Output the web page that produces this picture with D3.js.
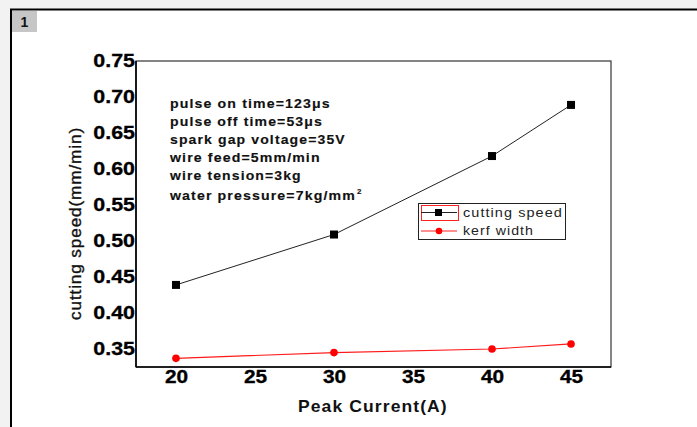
<!DOCTYPE html>
<html><head><meta charset="utf-8">
<script src="https://cdn.jsdelivr.net/npm/d3@7"></script>
<style>
html,body{margin:0;padding:0;background:#f2f2f2;}
svg{display:block;}
</style></head>
<body>
<svg id="chart" width="697" height="427"></svg>
<script>
const peakCurrent = [20, 30, 40, 45];
const cuttingSpeed = [0.439, 0.509, 0.618, 0.689];
const kerfWidth = [0.337, 0.345, 0.350, 0.357];
const xTicks = [20, 25, 30, 35, 40, 45];
const yTicks = [0.35, 0.40, 0.45, 0.50, 0.55, 0.60, 0.65, 0.70, 0.75];
const seriesNames = ["cutting speed", "kerf width"];
const notes = ["pulse on time=123μs", "pulse off time=53μs", "spark gap voltage=35V",
  "wire feed=5mm/min", "wire tension=3kg", "water pressure=7kg/mm"];
const xTitle = "Peak Current(A)";
const yTitle = "cutting speed(mm/min)";
const panelLabel = "1";

const svg = d3.select("#chart");
const font = "'Liberation Sans', Arial, sans-serif";

// stretch a text element horizontally about its anchor x so that it spans width w
function fit(sel, w) {
  sel.each(function () {
    const n = this;
    const cur = n.getBBox().width;
    if (!cur) return;
    const s = w / cur;
    const ax = +(n.getAttribute("x") || 0);
    n.setAttribute("transform", `translate(${ax},0) scale(${s},1) translate(${-ax},0)`);
  });
}

// outer frame
svg.append("rect").attr("x", 11).attr("y", 9).attr("width", 700).attr("height", 430)
  .attr("fill", "#fff");
svg.append("line").attr("x1", 10).attr("x2", 697).attr("y1", 9.5).attr("y2", 9.5)
  .attr("stroke", "#000").attr("stroke-width", 2);
svg.append("line").attr("x1", 11).attr("x2", 11).attr("y1", 9).attr("y2", 427)
  .attr("stroke", "#000").attr("stroke-width", 2);
svg.append("rect").attr("x", 12).attr("y", 11).attr("width", 25).attr("height", 21)
  .attr("fill", "#c6c6c6");
svg.append("text").attr("x", 24.5).attr("y", 26.5).attr("text-anchor", "middle")
  .attr("font-family", font).attr("font-weight", "bold").attr("font-size", 14)
  .attr("fill", "#111").text(panelLabel);

const L = 136, R = 611, T = 61, B = 367;
const x = d3.scaleLinear().domain([17.47, 47.53]).range([L, R]);
const y = d3.scaleLinear().domain([0.325, 0.75]).range([B, T]);

// plot frame
svg.append("rect").attr("x", L).attr("y", T).attr("width", R - L).attr("height", B - T)
  .attr("fill", "none").attr("stroke", "#333").attr("stroke-width", 1.2);
svg.append("line").attr("x1", L).attr("x2", L).attr("y1", T).attr("y2", B)
  .attr("stroke", "#000").attr("stroke-width", 1.6);
svg.append("line").attr("x1", L).attr("x2", R).attr("y1", B).attr("y2", B)
  .attr("stroke", "#000").attr("stroke-width", 1.6);

// axes
const gx = svg.append("g").attr("transform", `translate(0,${B})`)
  .call(d3.axisBottom(x).tickValues(xTicks).tickSize(0).tickPadding(4).tickFormat(d3.format("d")));
gx.select(".domain").remove();
gx.selectAll("text").attr("font-family", font).attr("font-weight", "bold")
  .attr("font-size", 17.5).attr("fill", "#000").attr("x", 0)
  .attr("stroke", "#000").attr("stroke-width", 0.3);
fit(gx.selectAll("text"), 23.5);

const gy = svg.append("g").attr("transform", `translate(${L},0)`)
  .call(d3.axisLeft(y).tickValues(yTicks).tickSize(0).tickFormat(d3.format(".2f")));
gy.select(".domain").remove();
gy.selectAll("text").attr("font-family", font).attr("font-weight", "bold")
  .attr("font-size", 17.5).attr("fill", "#000").attr("x", -1)
  .attr("stroke", "#000").attr("stroke-width", 0.3);
fit(gy.selectAll("text"), 42);

// titles
const xt = svg.append("text").attr("x", 298).attr("y", 412)
  .attr("font-family", font).attr("font-weight", "bold").attr("font-size", 16)
  .style("letter-spacing", "1px")
  .attr("fill", "#111").text(xTitle);
fit(xt, 150);
const yg = svg.append("g").attr("transform", "translate(81,320) rotate(-90)");
const yt = yg.append("text").attr("x", 0).attr("y", 0)
  .attr("font-family", font).attr("font-size", 16)
  .style("letter-spacing", "0.8px")
  .attr("stroke", "#111").attr("stroke-width", 0.35)
  .attr("fill", "#111").text(yTitle);
fit(yt, 193);

// lines
const line = d3.line().x(d => x(d[0])).y(d => y(d[1]));
const csData = peakCurrent.map((c, i) => [c, cuttingSpeed[i]]);
const kwData = peakCurrent.map((c, i) => [c, kerfWidth[i]]);
svg.append("path").datum(csData).attr("d", line).attr("fill", "none")
  .attr("stroke", "#222").attr("stroke-width", 1);
svg.append("path").datum(kwData).attr("d", line).attr("fill", "none")
  .attr("stroke", "#ff1a1a").attr("stroke-width", 1.2);
svg.selectAll(".sq").data(csData).enter().append("rect")
  .attr("x", d => x(d[0]) - 4).attr("y", d => y(d[1]) - 4)
  .attr("width", 8).attr("height", 8).attr("fill", "#000");
svg.selectAll(".ci").data(kwData).enter().append("circle")
  .attr("cx", d => x(d[0])).attr("cy", d => y(d[1])).attr("r", 3.8).attr("fill", "#ff0000");

// notes
const nt = svg.append("g");
const noteY = [108.5, 126.5, 144.5, 162.5, 180.5, 200.5];
const noteW = [161, 153, 176, 152, 133, 194];
notes.forEach((n, i) => {
  const t = nt.append("text").attr("x", 170).attr("y", noteY[i])
    .attr("font-family", font).attr("font-weight", "bold").attr("font-size", 12.5)
    .style("letter-spacing", "1px")
    .attr("stroke", "#111").attr("stroke-width", 0.15)
    .attr("fill", "#111").text(n);
  if (i === notes.length - 1) {
    t.append("tspan").attr("dx", 1).attr("dy", -6).attr("font-size", 7).text("2");
  }
  fit(t, noteW[i]);
});

// legend
const lg = svg.append("g");
lg.append("rect").attr("x", 418.5).attr("y", 203.5).attr("width", 147).attr("height", 36)
  .attr("fill", "#fff").attr("stroke", "#222").attr("stroke-width", 1);
lg.append("rect").attr("x", 421.5).attr("y", 205.5).attr("width", 37).attr("height", 15)
  .attr("fill", "none").attr("stroke", "#ff2020").attr("stroke-width", 1);
const rows = [212.5, 231];
lg.append("line").attr("x1", 421).attr("x2", 457).attr("y1", rows[0]).attr("y2", rows[0])
  .attr("stroke", "#222").attr("stroke-width", 1);
lg.append("rect").attr("x", 435).attr("y", rows[0] - 3.5).attr("width", 7).attr("height", 7).attr("fill", "#000");
lg.append("line").attr("x1", 421).attr("x2", 457).attr("y1", rows[1]).attr("y2", rows[1])
  .attr("stroke", "#ff2020").attr("stroke-width", 1);
lg.append("circle").attr("cx", 439).attr("cy", rows[1]).attr("r", 3.3).attr("fill", "#ff0000");
const legW = [100, 71];
seriesNames.forEach((s, i) => {
  const t = lg.append("text").attr("x", 463).attr("y", rows[i] + 4.5)
    .attr("font-family", font).attr("font-size", 13.5)
    .style("letter-spacing", "1px")
    .attr("fill", "#222").text(s);
  fit(t, legW[i]);
});
</script>
</body></html>
